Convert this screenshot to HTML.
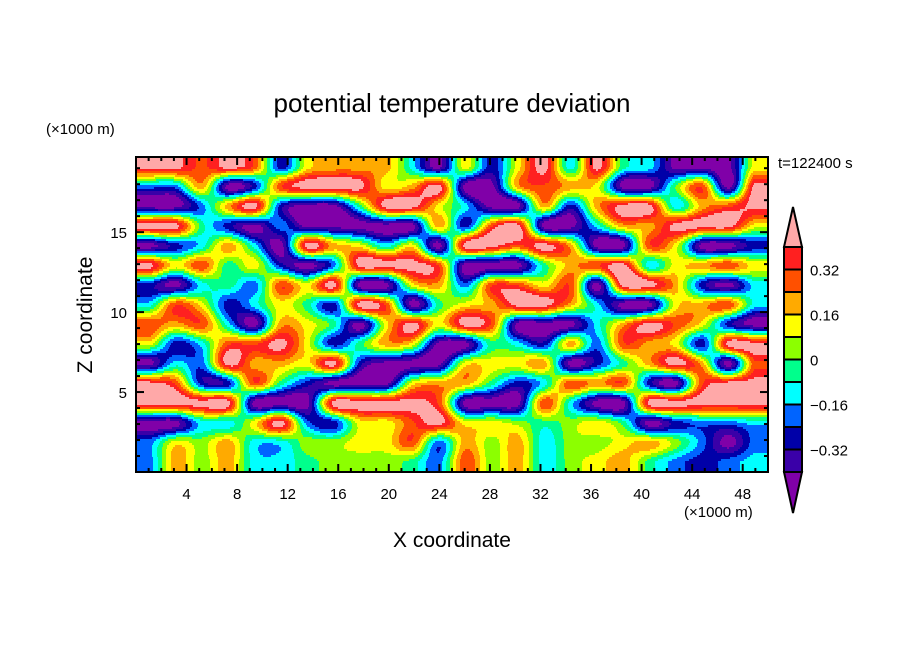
<!DOCTYPE html>
<html><head><meta charset="utf-8"><style>
body{margin:0;background:#fff;width:904px;height:654px;overflow:hidden;position:relative;font-family:"Liberation Sans",sans-serif}
svg{position:absolute;left:0;top:0}
</style></head><body>
<svg id="chart" width="904" height="654">
<g id="field" shape-rendering="crispEdges"></g>
<text x="452" y="112" text-anchor="middle" font-size="26">potential temperature deviation</text>
<text x="46" y="134" font-size="15">(×1000 m)</text>
<text x="684" y="517" font-size="15">(×1000 m)</text>
<text x="778" y="168" font-size="15">t=122400 s</text>
<text x="452" y="547" text-anchor="middle" font-size="21">X coordinate</text>
<text transform="translate(92,315) rotate(-90)" text-anchor="middle" font-size="21">Z coordinate</text>
<g id="ticks"></g>
<rect x="136" y="157" width="632" height="315" fill="none" stroke="#000" stroke-width="2"/>
<g id="cbar"></g>
</svg>
<script>
const fieldRows = [
"kkrkrnyooocpynykckgcpppy",
"bbopnrkkkyokpporoypperpk",
"ppboknppgkkycpponokkcork",
"kkgnpbppppponrkppcookkky",
"pncocpkoycypkkrkoppryppn",
"kyrgynpbkkkrpppgorkcyory",
"npcgbrykppyobrryrpkkonpc",
"cryncygnkrpgyokkocppyorc",
"rorcpoygpykykrpppcokrynp",
"yncrrkyngoyppgcnobroynkk",
"pcbkooyknpppyyyopngokopr",
"krnnrgnpppyoogncrornprkk",
"kkkkpppkkkkrppprcppkkkkk",
"ppccykbnyyrkyylglygpnbbc",
"byloccllyyrbolocllyolbpbc",
"boloccglllgbrloclyogbnbc"
];
const levelValues = {p:-5.5,i:-4.5,n:-3.5,b:-2.5,c:-1.5,g:-0.5,l:0.5,y:1.5,o:2.5,r:3.8,R:4.5,k:5.5};
const levelColors = ["#8000a8","#3a00a8","#0000a8","#0064ff","#00ffff","#00ff8c","#8cff00","#ffff00","#ffaa00","#ff5000","#ff2020","#ffa8a8"];
const cbarLabels = ["0.32","0.16","0","\u22120.16","\u22120.32"];
const xTickLabels = [4,8,12,16,20,24,28,32,36,40,44,48];
const yTickLabels = [5,10,15];
const xMax = 50, yMax = 19.7;

const NS='http://www.w3.org/2000/svg';
const X0=136,X1=768,Y0=472,Y1=157;
const sx=v=>X0+(v/xMax)*(X1-X0);
const sy=v=>Y0-(v/yMax)*(Y0-Y1);

const tg=document.getElementById('ticks');
function addLine(x1,y1,x2,y2,w){
  const l=document.createElementNS(NS,'line');
  l.setAttribute('x1',x1);l.setAttribute('y1',y1);l.setAttribute('x2',x2);l.setAttribute('y2',y2);
  l.setAttribute('stroke','#000');l.setAttribute('stroke-width',w);
  
  
  tg.appendChild(l);
}
for(let v=1;v<xMax;v++){const x=sx(v);const L=(v%4===0)?8:4;addLine(x,Y0,x,Y0-L,2);addLine(x,Y1,x,Y1+L,2);}
for(let v=1;v<yMax;v++){const y=sy(v);const L=(v%5===0)?8:4;addLine(X0,y,X0+L,y,2);addLine(X1,y,X1-L,y,2);}
xTickLabels.forEach(v=>{
  const t=document.createElementNS(NS,'text');
  t.setAttribute('x',sx(v));t.setAttribute('y',499);t.setAttribute('text-anchor','middle');t.setAttribute('font-size','15');
  t.textContent=v;
  
  
  tg.appendChild(t);
});
yTickLabels.forEach(v=>{
  const t=document.createElementNS(NS,'text');
  t.setAttribute('x',127);t.setAttribute('y',sy(v)+6);t.setAttribute('text-anchor','end');t.setAttribute('font-size','15');
  t.textContent=v;
  
  
  tg.appendChild(t);
});

const cb=document.getElementById('cbar');
const bx=784,bw=18,bTop=247,bBot=472,bh=(bBot-bTop)/10;
function addPoly(pts,fill,name){
  const p=document.createElementNS(NS,'polygon');
  p.setAttribute('points',pts);p.setAttribute('fill',fill);p.setAttribute('stroke','#000');p.setAttribute('stroke-width','2');
  
  
  cb.appendChild(p);
}
addPoly(bx+','+bTop+' '+(bx+bw/2)+',207 '+(bx+bw)+','+bTop,levelColors[11],'colorbar-top-triangle');
addPoly(bx+','+bBot+' '+(bx+bw/2)+',513 '+(bx+bw)+','+bBot,levelColors[0],'colorbar-bottom-triangle');
for(let i=0;i<10;i++){
  const r=document.createElementNS(NS,'rect');
  r.setAttribute('x',bx);r.setAttribute('y',bTop+i*bh);r.setAttribute('width',bw);r.setAttribute('height',bh);
  r.setAttribute('fill',levelColors[10-i]);r.setAttribute('stroke','#000');r.setAttribute('stroke-width','2');
  
  
  cb.appendChild(r);
}
cbarLabels.forEach((s,i)=>{
  const t=document.createElementNS(NS,'text');
  t.setAttribute('x',810);t.setAttribute('y',bTop+bh*(1+2*i)+6);t.setAttribute('font-size','15');
  t.textContent=s;
  
  
  cb.appendChild(t);
});

const NC=24,NR=16;
const grid = fieldRows.map(row => {
  const s=row.replace(/ /g,'');
  const out=[];
  for(let i=0;i<NC;i++){const ch=s[Math.min(i,s.length-1)];out.push(levelValues[ch]!==undefined?levelValues[ch]:0);}
  return out;
});
function cr(p0,p1,p2,p3,t){
  return 0.5*((2*p1)+(-p0+p2)*t+(2*p0-5*p1+4*p2-p3)*t*t+(-p0+3*p1-3*p2+p3)*t*t*t);
}
function g(r,c){r=Math.max(0,Math.min(NR-1,r));c=Math.max(0,Math.min(NC-1,c));return grid[r][c];}
const fg=document.getElementById('field');
const W=632,H=315,STEP=2;
for(let py=0;py<H;py+=STEP){
  let gy=(py+STEP/2)/H*NR-0.5; gy=Math.max(0,Math.min(NR-1.0001,gy));
  const r0=Math.floor(gy), fy=gy-r0;
  const rowVals=[];
  for(let c=0;c<NC;c++) rowVals.push(cr(g(r0-1,c),g(r0,c),g(r0+1,c),g(r0+2,c),fy));
  const rv=c=>rowVals[Math.max(0,Math.min(NC-1,c))];
  let runStart=0, runIdx=-1;
  for(let px=0;px<=W;px++){
    let idx=-2;
    if(px<W){
      let gx=(px+0.5)/W*NC-0.5; gx=Math.max(0,Math.min(NC-1.0001,gx));
      const c0=Math.floor(gx), fx=gx-c0;
      const v=cr(rv(c0-1),rv(c0),rv(c0+1),rv(c0+2),fx);
      idx=Math.max(0,Math.min(11,Math.floor(v)+6));
    }
    if(idx!==runIdx){
      if(runIdx>=0){
        const rr=document.createElementNS(NS,'rect');
        rr.setAttribute('x',X0+runStart);rr.setAttribute('y',Y1+py);
        rr.setAttribute('width',px-runStart);rr.setAttribute('height',Math.min(STEP,H-py));
        rr.setAttribute('fill',levelColors[runIdx]);
        
        
        fg.appendChild(rr);
      }
      runStart=px;runIdx=idx;
    }
  }
}
</script>
</body></html>
